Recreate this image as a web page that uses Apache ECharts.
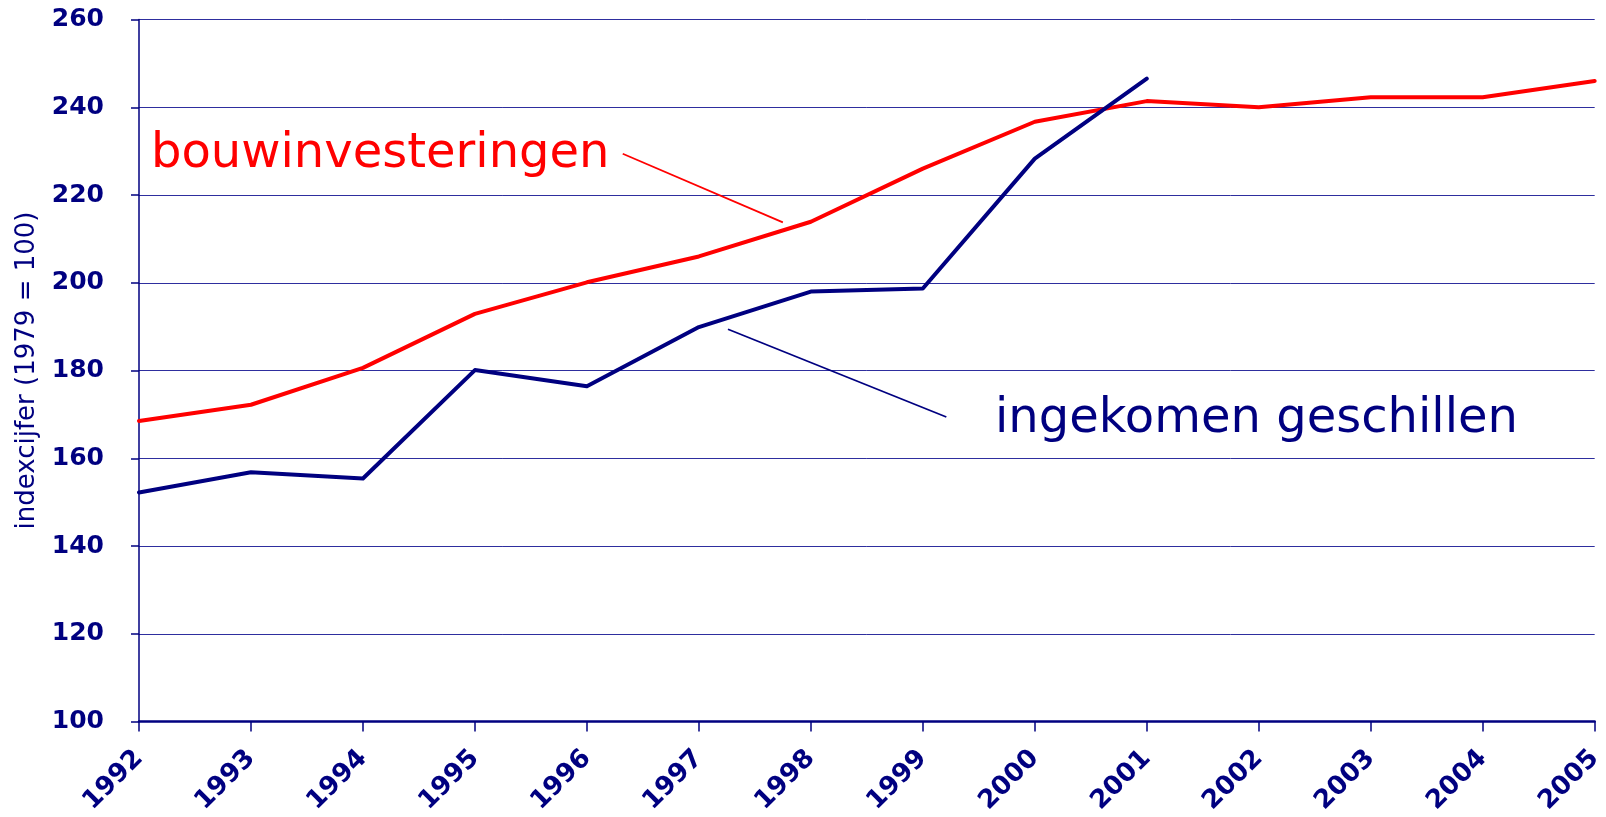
<!doctype html>
<html lang="nl">
<head>
	<meta charset="UTF-8">
	<title>bouwinvesteringen en ingekomen geschillen</title>
	<style>
		html, body { margin: 0; padding: 0; background: #fff; }
		#chart { width: 1606px; height: 817px; }
	</style>
</head>
<body>
	<div id="chart"></div>

	<script src="https://cdn.jsdelivr.net/npm/echarts@6/dist/echarts.min.js"></script>
	<script>
		// data (indexcijfer, 1979 = 100)
		var years = [1992, 1993, 1994, 1995, 1996, 1997, 1998, 1999, 2000, 2001, 2002, 2003, 2004, 2005];
		var bouwinvesteringen = [168.5, 172.2, 180.6, 192.9, 200.1, 206.0, 213.9, 226.0, 236.7, 241.4, 240.0, 242.3, 242.3, 246.0];
		var geschillen = [152.2, 156.8, 155.4, 180.1, 176.4, 189.9, 198.0, 198.7, 228.3, 246.5];
		var yTicks = [100, 120, 140, 160, 180, 200, 220, 240, 260];

		// leader lines from the labels to the lines (in data units)
		var redLeader = [[1996.32, 229.4], [1997.75, 213.75]];
		var blueLeader = [[1997.26, 189.4], [1999.21, 169.4]];

		var navy = '#000080';
		var red = '#FF0000';

		function pairs(values) {
			return values.map(function (v, i) { return [years[i], v]; });
		}

		var chart = echarts.init(document.getElementById('chart'));

		option = {
			animation: false,
			backgroundColor: '#fff',
			grid: {
				left: 139,
				right: 7,
				top: 19.5,
				bottom: 93.5
			},
			xAxis: {
				type: 'value',
				min: years[0],
				max: years[years.length - 1],
				interval: 1,
				axisLine: { lineStyle: { color: navy, width: 2.5 } },
				axisTick: { show: true, length: 10, lineStyle: { color: navy, width: 1.5 } },
				splitLine: { show: false },
				axisLabel: {
					rotate: 45,
					margin: 33,
					color: navy,
					fontFamily: 'DejaVu Sans',
					fontWeight: 'bold',
					fontSize: 26,
					formatter: function (v) { return String(v); }
				}
			},
			yAxis: {
				type: 'value',
				min: yTicks[0],
				max: yTicks[yTicks.length - 1],
				interval: 20,
				name: 'indexcijfer (1979 = 100)',
				nameLocation: 'middle',
				nameGap: 99,
				nameTextStyle: {
					color: navy,
					fontFamily: 'DejaVu Sans',
					fontSize: 26
				},
				axisLine: { show: true, lineStyle: { color: navy, width: 1.5 } },
				axisTick: { show: true, length: 8, lineStyle: { color: navy, width: 1.5 } },
				splitLine: { lineStyle: { color: '#2E2E9E', width: 1 } },
				axisLabel: {
					margin: 35,
					color: navy,
					fontFamily: 'DejaVu Sans',
					fontWeight: 'bold',
					fontSize: 25
				}
			},
			series: [
				{
					name: 'bouwinvesteringen',
					type: 'line',
					data: pairs(bouwinvesteringen),
					showSymbol: false,
					lineStyle: { color: red, width: 4, cap: 'round', join: 'round' },
					markLine: {
						silent: true,
						symbol: ['none', 'none'],
						label: { show: false },
						lineStyle: { color: red, width: 1.8, type: 'solid' },
						data: [[{ coord: redLeader[0] }, { coord: redLeader[1] }]]
					}
				},
				{
					name: 'ingekomen geschillen',
					type: 'line',
					data: pairs(geschillen),
					showSymbol: false,
					lineStyle: { color: navy, width: 4, cap: 'round', join: 'round' },
					markLine: {
						silent: true,
						symbol: ['none', 'none'],
						label: { show: false },
						lineStyle: { color: navy, width: 1.8, type: 'solid' },
						data: [[{ coord: blueLeader[0] }, { coord: blueLeader[1] }]]
					}
				}
			],
			graphic: [
				{
					type: 'text',
					left: 151,
					top: 131,
					style: {
						text: 'bouwinvesteringen',
						fill: red,
						font: '48px "DejaVu Sans"'
					}
				},
				{
					type: 'text',
					left: 995,
					top: 396,
					style: {
						text: 'ingekomen geschillen',
						fill: navy,
						font: '48px "DejaVu Sans"'
					}
				}
			]
		};

		chart.setOption(option);
	</script>
</body>
</html>
